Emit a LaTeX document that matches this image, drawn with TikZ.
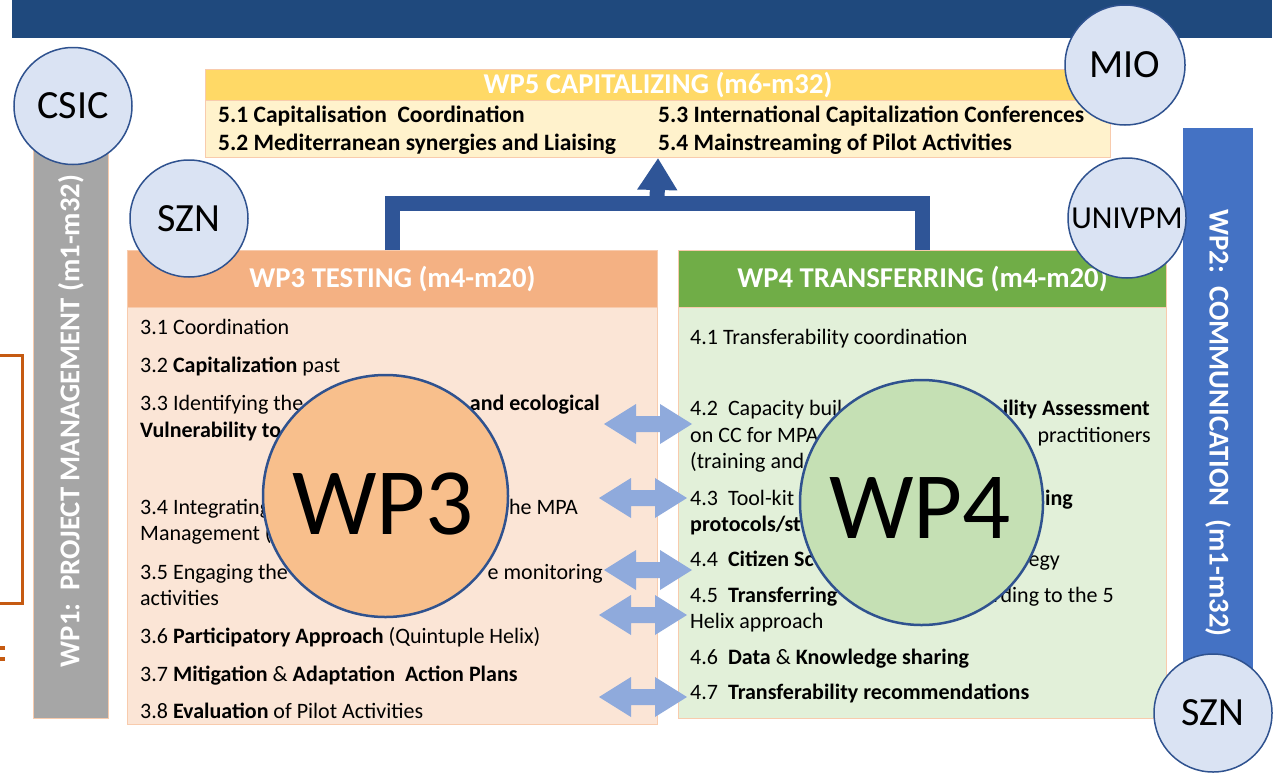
\documentclass[tikz,border=0pt]{standalone}
\usepackage{fontspec}
\setmainfont{Carlito}
\usetikzlibrary{arrows.meta,shapes.geometric}
\definecolor{topbar}{HTML}{1F497D}
\definecolor{wpfiveh}{HTML}{FFD966}
\definecolor{wpfiveb}{HTML}{FFF2CC}
\definecolor{boxedge}{HTML}{F8CBAD}
\definecolor{wpthreeh}{HTML}{F4B183}
\definecolor{wpthreeb}{HTML}{FBE5D6}
\definecolor{wpfourh}{HTML}{70AD47}
\definecolor{wpfourb}{HTML}{E2F0D9}
\definecolor{wponebar}{HTML}{A6A6A6}
\definecolor{wptwobar}{HTML}{4472C4}
\definecolor{partnerfill}{HTML}{DAE3F3}
\definecolor{circedge}{HTML}{2F528F}
\definecolor{connblue}{HTML}{2F5597}
\definecolor{arrowblue}{HTML}{8FAADC}
\definecolor{bigthree}{HTML}{F8BF8C}
\definecolor{bigfour}{HTML}{C5E0B4}
\definecolor{bracketc}{HTML}{C55A11}
\begin{document}
\begin{tikzpicture}[x=1pt,y=-1pt,
  box/.style={draw=boxedge, line width=1pt, anchor=north west, inner sep=0pt, rectangle},
  hdrtxt/.style={text=white, font=\bfseries\fontsize{28.7}{32}\selectfont},
  btxt/.style={anchor=base west, inner sep=0pt, font=\fontsize{22}{26}\selectfont},
  rtxt/.style={anchor=base east, inner sep=0pt, font=\fontsize{22}{26}\selectfont},
  fivetxt/.style={anchor=base west, inner sep=0pt, font=\bfseries\fontsize{23.5}{26}\selectfont},
  partner/.style={ellipse, draw=circedge, line width=1.5pt, fill=partnerfill, inner sep=0pt},
  partnertxt/.style={inner sep=0pt, font=\fontsize{40}{44}\selectfont},
  bigwp/.style={ellipse, draw=circedge, line width=2.5pt, inner sep=0pt},
  bigtxt/.style={inner sep=0pt, font=\fontsize{95}{100}\selectfont},
  conn/.style={connblue, line width=15pt, line join=miter},
  dblarrow/.pic={\fill[arrowblue] (-44,0) -- (-12,-20) -- (-12,-8) -- (12,-8) -- (12,-20) -- (44,0) -- (12,20) -- (12,8) -- (-12,8) -- (-12,20) -- cycle;}
]
\useasboundingbox (0,0) rectangle (1281,779);
\fill[white] (0,0) rectangle (1281,779);
% top bar
\node[anchor=north west, fill=topbar, minimum width=1260pt, minimum height=38pt, inner sep=0pt] (topbar) at (12,0) {};
% left bracket
\coordinate (brA) at (0,355);
\coordinate (brB) at (0,603);
\draw[bracketc, line width=3pt] (brA) -- ++(22,0) |- (brB);
\fill[bracketc] (0,646) rectangle (5,650);
\fill[bracketc] (0,657) rectangle (5,661);
% WP1 and WP2 bars
\node[box, fill=wponebar, minimum width=75pt, minimum height=590pt] (wp1) at (33,128) {};
\node[hdrtxt, rotate=90] (wp1t) at (71,421) {WP1:\ \ PROJECT MANAGEMENT (m1-m32)};
\node[box, fill=wptwobar, draw=wptwobar, minimum width=69pt, minimum height=570pt] (wp2) at (1183,128) {};
\node[hdrtxt, rotate=-90] (wp2t) at (1218,423) {WP2:\ \ COMMUNICATION\ \ (m1-m32)};
% WP5
\node[box, fill=wpfiveh, minimum width=905pt, minimum height=31pt] (wp5h) at (205,69) {};
\node[hdrtxt] (wp5t) at (wp5h.center) {WP5 CAPITALIZING (m6-m32)};
\node[box, fill=wpfiveb, minimum width=905pt, minimum height=57pt] (wp5b) at (205,100) {};
\node[fivetxt] (t51) at (218,122) {5.1 Capitalisation\ \ Coordination};
\node[fivetxt] (t52) at (218,150) {5.2 Mediterranean synergies and Liaising};
\node[fivetxt] (t53) at (658,122) {5.3 International Capitalization Conferences};
\node[fivetxt] (t54) at (658,150) {5.4 Mainstreaming of Pilot Activities};
% WP3 and WP4 boxes
\node[box, fill=wpthreeh, minimum width=530pt, minimum height=57pt] (wp3h) at (127,250) {};
\node[hdrtxt] (wp3t) at (wp3h.center) {WP3 TESTING (m4-m20)};
\node[box, fill=wpthreeb, minimum width=530pt, minimum height=417pt] (wp3b) at (127,307) {};
\node[box, fill=wpfourh, minimum width=488pt, minimum height=57pt] (wp4h) at (678,250) {};
\node[hdrtxt] (wp4t) at (wp4h.center) {WP4 TRANSFERRING (m4-m20)};
\node[box, fill=wpfourb, minimum width=488pt, minimum height=411pt] (wp4b) at (678,307) {};
% connector to WP5
\coordinate (joint) at (657,203);
\draw[conn] (wp3h.north) |- (joint) -| (wp4h.north);
\draw[conn, -{Triangle[width=38pt,length=32pt]}] (joint) -- (wp5b.south);
% WP3 texts
\node[btxt] (t31) at (140,334) {3.1 Coordination};
\node[btxt] (t32) at (140,372) {3.2 \textbf{Capitalization} past};
\node[btxt] (t33a) at (140,410) {3.3 Identifying the};
\node[rtxt] (t33b) at (600,410) {\textbf{and ecological}};
\node[btxt] (t33c) at (140,437) {\textbf{Vulnerability to}};
\node[btxt] (t34a) at (140,514) {3.4 Integrating};
\node[rtxt] (t34b) at (578,514) {he MPA};
\node[btxt] (t34c) at (140,540) {Management (};
\node[btxt] (t35a) at (140,579) {3.5 Engaging the};
\node[rtxt] (t35b) at (603,579) {e monitoring};
\node[btxt] (t35c) at (140,605) {activities};
\node[btxt] (t36) at (140,643) {3.6 \textbf{Participatory Approach} (Quintuple Helix)};
\node[btxt] (t37) at (140,681) {3.7 \textbf{Mitigation} \& \textbf{Adaptation\ \ Action Plans}};
\node[btxt] (t38) at (140,718) {3.8 \textbf{Evaluation} of Pilot Activities};
% WP4 texts
\node[btxt] (t41) at (690,344) {4.1 Transferability coordination};
\node[btxt] (t42a) at (690,415) {4.2\ \ Capacity buil};
\node[rtxt] (t42b) at (1150,415) {\textbf{ility Assessment}};
\node[btxt] (t42c) at (690,442) {on CC for MPA};
\node[rtxt] (t42d) at (1151,442) {practitioners};
\node[btxt] (t42e) at (690,468) {(training and};
\node[btxt] (t43a) at (690,505) {4.3\ \ Tool-kit};
\node[rtxt] (t43b) at (1073,505) {\textbf{ing}};
\node[btxt] (t43c) at (690,531) {\textbf{protocols/st}};
\node[btxt] (t44a) at (690,566) {4.4\ \ \textbf{Citizen Sc}};
\node[rtxt] (t44b) at (1060,566) {egy};
\node[btxt] (t45a) at (690,602) {4.5\ \ \textbf{Transferring}};
\node[rtxt] (t45b) at (1114,602) {rding to the 5};
\node[btxt] (t45c) at (690,628) {Helix approach};
\node[btxt] (t46) at (690,664) {4.6\ \ \textbf{Data} \& \textbf{Knowledge sharing}};
\node[btxt] (t47) at (690,699) {4.7\ \ \textbf{Transferability recommendations}};
% big circles
\node[bigwp, fill=bigthree, minimum width=245pt, minimum height=242pt] (big3) at (385.5,496) {};
\node[bigtxt] (big3t) at (383,504) {WP3};
\node[bigwp, fill=bigfour, minimum width=243pt, minimum height=245pt] (big4) at (921.5,502.5) {};
\node[bigtxt] (big4t) at (920,508) {WP4};
% double arrows
\pic at (648,424) {dblarrow};
\pic at (643,498) {dblarrow};
\pic at (648,570) {dblarrow};
\pic at (643,615) {dblarrow};
\pic at (643,697) {dblarrow};
% partner circles
\node[partner, minimum width=118pt, minimum height=117pt] (csic) at (73,106) {};
\node[partnertxt] (csict) at (csic.center) {CSIC};
\node[partner, minimum width=118pt, minimum height=117pt] (sznl) at (189,218.5) {};
\node[partnertxt] (sznlt) at (sznl.center) {SZN};
\node[partner, minimum width=120pt, minimum height=120pt] (mio) at (1125,65) {};
\node[partnertxt] (miot) at (mio.center) {MIO};
\node[partner, minimum width=118pt, minimum height=120pt] (univpm) at (1127,218) {};
\node[partnertxt, font=\fontsize{32}{36}\selectfont] (univpmt) at (univpm.center) {UNIVPM};
\node[partner, minimum width=118pt, minimum height=118pt] (sznr) at (1213,713) {};
\node[partnertxt] (sznrt) at (sznr.center) {SZN};
\end{tikzpicture}
\end{document}
